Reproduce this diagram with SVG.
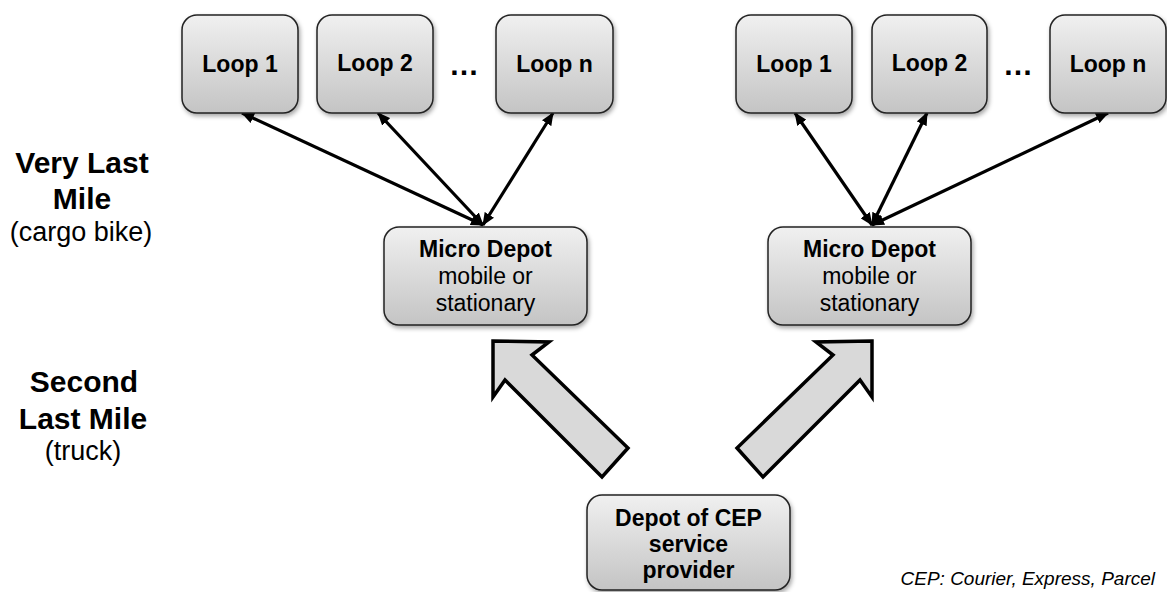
<svg xmlns="http://www.w3.org/2000/svg" width="1167" height="592" viewBox="0 0 1167 592">
<defs>
<linearGradient id="g" x1="0" y1="0" x2="0" y2="1">
<stop offset="0" stop-color="#f0f0f0"/>
<stop offset="1" stop-color="#c4c4c4"/>
</linearGradient>
<filter id="sh" x="-10%" y="-10%" width="125%" height="130%">
<feDropShadow dx="1.5" dy="2.5" stdDeviation="2" flood-color="#000" flood-opacity="0.35"/>
</filter>
<marker id="ah" viewBox="0 0 13 11" refX="12" refY="5.5" markerWidth="13" markerHeight="11" markerUnits="userSpaceOnUse" orient="auto-start-reverse">
<path d="M0,0 L13,5.5 L0,11 Z" fill="#000"/>
</marker>
<style>
.box{fill:url(#g);stroke:#222;stroke-width:1.5;filter:url(#sh)}
.b{font-family:"Liberation Sans",Arial,sans-serif;font-weight:bold;font-size:23px;fill:#000;text-anchor:middle}
.r{font-family:"Liberation Sans",Arial,sans-serif;font-size:23px;fill:#000;text-anchor:middle}
.lb{font-family:"Liberation Sans",Arial,sans-serif;font-weight:bold;font-size:30px;fill:#000;text-anchor:middle}
.lr{font-family:"Liberation Sans",Arial,sans-serif;font-size:27px;fill:#000;text-anchor:middle}
.ln{stroke:#000;stroke-width:3.2;fill:none;marker-start:url(#ah);marker-end:url(#ah)}
.big{fill:#d9d9d9;stroke:#000;stroke-width:3.5;stroke-linejoin:miter}
.dots{font-family:"Liberation Sans",Arial,sans-serif;font-weight:bold;font-size:30px;fill:#000;text-anchor:middle}
</style>
</defs>

<g id="labels">
<text class="lb" x="82" y="173">Very Last</text>
<text class="lb" x="82" y="209">Mile</text>
<text class="lr" x="81" y="241">(cargo bike)</text>
<text class="lb" x="84" y="392">Second</text>
<text class="lb" x="83" y="429">Last Mile</text>
<text class="lr" x="83" y="460">(truck)</text>
<text x="1155" y="585" font-family="'Liberation Sans',Arial,sans-serif" font-size="19" font-style="italic" text-anchor="end">CEP: Courier, Express, Parcel</text>
</g>

<g id="connectors">
<line class="ln" x1="483" y1="225" x2="242" y2="113"/>
<line class="ln" x1="483" y1="225" x2="378" y2="113"/>
<line class="ln" x1="483" y1="225" x2="553" y2="113"/>
<line class="ln" x1="872" y1="225" x2="795" y2="113"/>
<line class="ln" x1="872" y1="225" x2="927" y2="113"/>
<line class="ln" x1="872" y1="225" x2="1108" y2="113"/>
<polygon class="big" points="493,341 549,342 532,355 628,448 602,477 505,380 493,397"/>
<polygon class="big" points="872,341 816,342 833,355 737,448 763,477 860,380 872,397"/>
</g>

<g id="loopL1"><rect class="box" x="182" y="15" width="116" height="98" rx="15"/><text class="b" x="240" y="72">Loop 1</text></g>
<g id="loopL2"><rect class="box" x="317" y="15" width="116" height="98" rx="15"/><text class="b" x="375" y="71">Loop 2</text></g>
<g id="dotsL"><text class="dots" x="464" y="75">…</text></g>
<g id="loopLn"><rect class="box" x="496" y="15" width="117" height="98" rx="15"/><text class="b" x="554.5" y="72">Loop n</text></g>

<g id="loopR1"><rect class="box" x="736" y="15" width="116" height="98" rx="15"/><text class="b" x="794" y="72">Loop 1</text></g>
<g id="loopR2"><rect class="box" x="872" y="15" width="115" height="98" rx="15"/><text class="b" x="929.5" y="71">Loop 2</text></g>
<g id="dotsR"><text class="dots" x="1018" y="75">…</text></g>
<g id="loopRn"><rect class="box" x="1050" y="15" width="116" height="98" rx="15"/><text class="b" x="1108" y="72">Loop n</text></g>

<g id="microL"><rect class="box" x="384" y="227" width="203" height="98" rx="15"/>
<text class="b" x="485.5" y="257">Micro Depot</text>
<text class="r" x="485.5" y="284">mobile or</text>
<text class="r" x="485.5" y="311">stationary</text></g>

<g id="microR"><rect class="box" x="768" y="227" width="203" height="98" rx="15"/>
<text class="b" x="869.5" y="257">Micro Depot</text>
<text class="r" x="869.5" y="284">mobile or</text>
<text class="r" x="869.5" y="311">stationary</text></g>

<g id="depot"><rect class="box" x="587" y="495" width="203" height="95" rx="15"/>
<text class="b" x="688.5" y="526" font-size="22">Depot of CEP</text>
<text class="b" x="688.5" y="552" font-size="22">service</text>
<text class="b" x="688.5" y="578" font-size="22">provider</text></g>
</svg>
